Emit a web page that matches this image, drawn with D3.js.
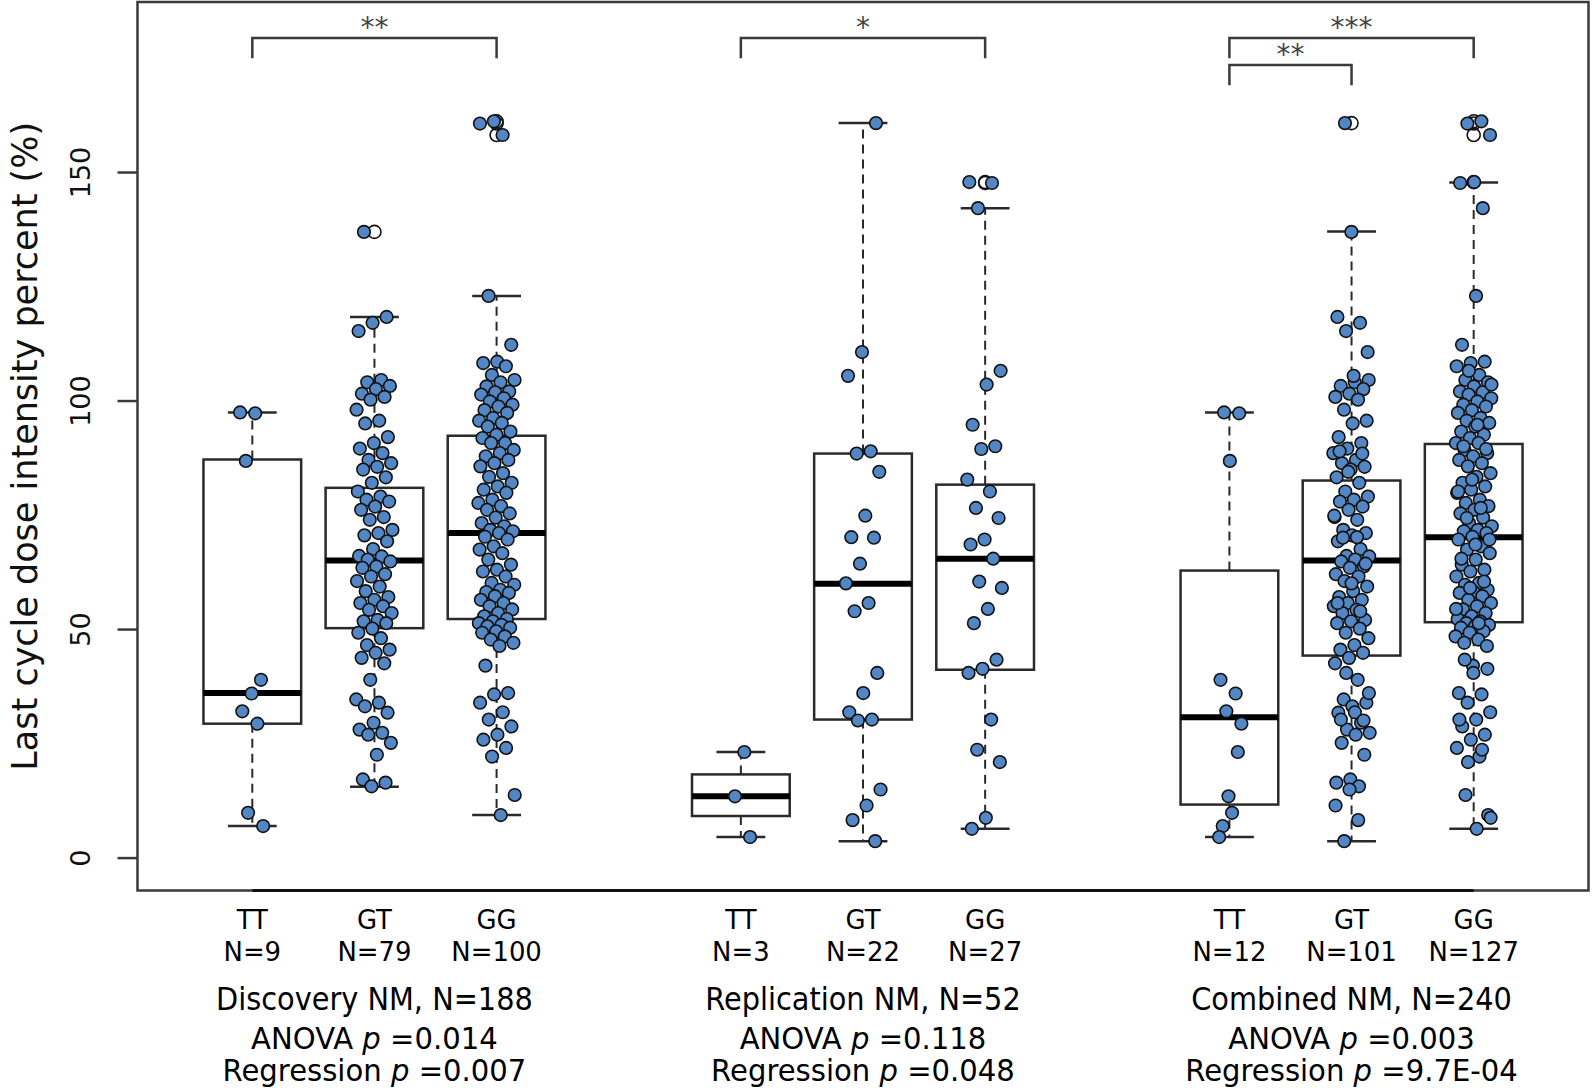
<!DOCTYPE html>
<html><head><meta charset="utf-8">
<script src="https://cdn.jsdelivr.net/npm/d3@7"></script>
<style>
body{margin:0;background:#fff;}
svg{display:block;font-family:"DejaVu Sans",sans-serif;}
</style>
</head><body>
<svg id="chart" width="1593" height="1092"></svg>
<script>
// ---------------- data ----------------
const categories = ["TT","GT","GG","TT","GT","GG","TT","GT","GG"];
const positions = [1,2,3,5,6,7,9,10,11];
const groupSizes = ["N=9","N=79","N=100","N=3","N=22","N=27","N=12","N=101","N=127"];
const cohortLabels = ["Discovery NM, N=188","Replication NM, N=52","Combined NM, N=240"];
const cohortCenters = [2,6,10];
const anovaP = ["0.014","0.118","0.003"];
const regressionP = ["0.007","0.048","9.7E-04"];
const yTicks = [0,50,100,150];
const yTitle = "Last cycle dose intensity percent (%)";

// box statistics
const whiskerHigh = [97.4,118.3,122.9,23.1,160.7,142.1,97.4,137.0,147.7];
const upperHinge  = [87.1,80.9,92.3,18.2,88.4,81.6,62.8,82.5,90.5];
const medians     = [36.0,65.0,71.0,13.4,59.9,65.4,30.7,65.0,70.1];
const lowerHinge  = [29.3,50.2,52.2,9.1,30.2,41.1,11.6,44.2,51.5];
const whiskerLow  = [6.9,15.5,9.3,4.5,3.6,6.3,4.5,3.6,6.3];

// individual values
const discoveryTT = [97.4,97.2,86.8,38.9,35.9,32.0,29.3,9.8,6.9];
const discoveryGT = [136.9,118.3,117.0,115.2,104.5,104.0,103.2,102.5,101.5,
  100.8,100.2,98.0,95.6,95.0,92.0,90.7,89.5,88.5,87.0,86.3,
  85.5,84.9,83.2,82.0,80.1,79.0,78.3,77.9,76.8,76.1,
  74.5,73.9,71.7,71.0,70.5,69.2,67.5,66.0,65.9,65.2,
  64.8,63.7,63.4,62.0,61.5,60.5,59.3,58.3,57.0,56.4,
  55.7,55.0,54.2,53.5,52.0,51.7,51.3,50.1,49.2,48.0,
  46.5,45.5,44.8,43.7,42.5,38.9,34.6,33.9,33.1,31.7,
  29.5,28.0,27.3,26.9,25.1,22.5,17.1,16.4,15.6];
const discoveryGG = [161.1,160.6,158.1,122.9,112.2,108.5,108.2,107.5,105.6,104.5,
  104.0,103.1,102.0,101.8,101.3,100.5,99.8,99.1,98.7,97.9,
  97.3,96.2,95.6,95.1,94.3,93.2,92.5,91.8,90.7,90.7,
  89.2,88.5,87.8,87.0,86.3,85.6,84.1,83.3,82.0,81.2,
  80.5,79.8,78.3,77.6,76.9,76.1,75.3,74.4,73.2,72.5,
  71.7,71.4,71.0,70.2,69.6,68.1,67.4,66.6,65.2,64.1,
  63.0,62.6,61.5,60.1,59.7,58.6,58.1,57.9,57.2,56.4,
  55.7,55.0,54.3,53.5,52.8,52.2,51.7,51.3,50.9,50.6,
  50.3,49.5,49.2,48.4,47.7,47.0,46.3,42.0,36.0,35.7,
  33.9,31.8,30.2,28.7,26.9,25.8,24.0,22.1,13.7,9.3];
const replicationTT = [23.1,13.4,4.5];
const replicationGT = [160.7,110.6,105.4,88.9,88.4,84.4,74.8,70.1,70.0,64.3,
  60.0,55.7,53.9,40.4,36.0,31.8,30.2,30.0,14.9,11.4,8.2,3.6];
const replicationGG = [147.8,147.6,142.1,106.5,103.5,94.7,90.0,89.4,82.7,80.1,
  76.5,74.3,69.6,68.5,65.4,60.4,59.0,54.4,51.3,43.3,
  41.3,40.4,30.2,23.6,20.9,8.7,6.3];
const combinedTT = discoveryTT.concat(replicationTT);
const combinedGT = discoveryGT.concat(replicationGT);
const combinedGG = discoveryGG.concat(replicationGG);
const pointSets = [discoveryTT,discoveryGT,discoveryGG,replicationTT,replicationGT,replicationGG,combinedTT,combinedGT,combinedGG];

// significance annotations
const sigFrom = [1,5,9,9];
const sigTo = [3,7,11,10];
const sigLabels = ["**","*","***","**"];
const sigLevel = [179.3,179.3,179.3,173.4];

// ---------------- drawing ----------------
const svg = d3.select("#chart");
const plot = {left:137.5, right:1588.5, top:2, bottom:890.5};
const x = d3.scaleLinear().domain([0.06,11.94]).range([plot.left,plot.right]);
const y = d3.scaleLinear().domain([-7.2,187.2]).range([plot.bottom,plot.top]);
const boxHalf = 0.4, capHalf = 0.2;
const ink = "#2a2a2a";

svg.append("rect").attr("width",1593).attr("height",1092).attr("fill","#fff");

// boxes
const boxes = svg.append("g");
positions.forEach((p,i)=>{
  const g = boxes.append("g");
  g.append("line").attr("x1",x(p)).attr("x2",x(p)).attr("y1",y(upperHinge[i])).attr("y2",y(whiskerHigh[i]))
    .attr("stroke",ink).attr("stroke-width",2).attr("stroke-dasharray","9,6");
  g.append("line").attr("x1",x(p)).attr("x2",x(p)).attr("y1",y(lowerHinge[i])).attr("y2",y(whiskerLow[i]))
    .attr("stroke",ink).attr("stroke-width",2).attr("stroke-dasharray","9,6");
  [whiskerHigh[i],whiskerLow[i]].forEach(v=>{
    g.append("line").attr("x1",x(p-capHalf)).attr("x2",x(p+capHalf)).attr("y1",y(v)).attr("y2",y(v))
      .attr("stroke",ink).attr("stroke-width",2.5);
  });
  g.append("rect").attr("x",x(p-boxHalf)).attr("width",x(p+boxHalf)-x(p-boxHalf))
    .attr("y",y(upperHinge[i])).attr("height",y(lowerHinge[i])-y(upperHinge[i]))
    .attr("fill","#fff").attr("stroke",ink).attr("stroke-width",2.5);
  g.append("line").attr("x1",x(p-boxHalf)).attr("x2",x(p+boxHalf)).attr("y1",y(medians[i])).attr("y2",y(medians[i]))
    .attr("stroke","#000").attr("stroke-width",6);
  pointSets[i].filter(v=>v>whiskerHigh[i]+0.05||v<whiskerLow[i]-0.05).forEach(v=>{
    g.append("circle").attr("cx",x(p)).attr("cy",y(v)).attr("r",6.5)
      .attr("fill","none").attr("stroke","#111").attr("stroke-width",1.6);
  });
});

// jittered points
const pts = svg.append("g");
positions.forEach((p,i)=>{
  const vals = pointSets[i];
  const amp = vals.length < 15 ? 0.1 : 0.15;
  vals.forEach((v,j)=>{
    const f = (j*0.6180339887 + i*0.2137) % 1;
    const dx = (f-0.5)*2*amp;
    pts.append("circle").attr("cx",x(p+dx)).attr("cy",y(v)).attr("r",6.3)
      .attr("fill","#5386c4").attr("stroke","#111").attr("stroke-width",1.6);
  });
});

// frame
svg.append("rect").attr("x",plot.left).attr("y",plot.top)
  .attr("width",plot.right-plot.left).attr("height",plot.bottom-plot.top)
  .attr("fill","none").attr("stroke","#3a3a3a").attr("stroke-width",2.5);
svg.append("line").attr("x1",x(1)).attr("x2",x(11)).attr("y1",plot.bottom).attr("y2",plot.bottom)
  .attr("stroke","#111").attr("stroke-width",3);

// y axis
const yAxis = svg.append("g").attr("transform",`translate(${plot.left},0)`)
  .call(d3.axisLeft(y).tickValues(yTicks).tickSize(20).tickSizeOuter(0).tickFormat(d3.format("d")));
yAxis.select(".domain").remove();
yAxis.selectAll(".tick line").attr("stroke","#3a3a3a").attr("stroke-width",2.5);
yAxis.selectAll(".tick text").attr("transform","rotate(-90)").attr("x",0).attr("y",-48).attr("dy",0)
  .attr("text-anchor","middle").attr("font-size",27).attr("fill","#111")
  .attr("font-family","DejaVu Sans, sans-serif");

// y title
svg.append("text").attr("transform",`translate(37,${(plot.top+plot.bottom)/2}) rotate(-90)`)
  .attr("text-anchor","middle").attr("font-size",35).attr("fill","#111").text(yTitle);

// bottom labels
function condensed(xp, yp, size, sx){
  return svg.append("g").attr("transform",`translate(${xp},${yp}) scale(${sx},1)`)
    .append("text").attr("text-anchor","middle").attr("font-size",size).attr("fill","#000");
}
positions.forEach((p,i)=>{
  condensed(x(p),929,27,0.96).text(categories[i]);
  condensed(x(p),961,27,0.96).text(groupSizes[i]);
});
cohortCenters.forEach((c,i)=>{
  condensed(x(c),1010,32,0.9).text(cohortLabels[i]);
  const t1 = condensed(x(c),1049,30,0.97);
  t1.append("tspan").text("ANOVA ");
  t1.append("tspan").attr("font-style","italic").text("p");
  t1.append("tspan").text(" =" + anovaP[i]);
  const t2 = condensed(x(c),1081,30,0.97);
  t2.append("tspan").text("Regression ");
  t2.append("tspan").attr("font-style","italic").text("p");
  t2.append("tspan").text(" =" + regressionP[i]);
});

// significance brackets
sigFrom.forEach((a,i)=>{
  const b = sigTo[i], lv = sigLevel[i];
  svg.append("path")
    .attr("d",`M${x(a)},${y(lv-4.4)}V${y(lv)}H${x(b)}V${y(lv-4.4)}`)
    .attr("fill","none").attr("stroke","#3a3a3a").attr("stroke-width",2.5);
  svg.append("text").attr("x",x((a+b)/2)).attr("y",y(lv)-1).attr("text-anchor","middle")
    .attr("font-size",28).attr("fill","#444").text(sigLabels[i]);
});
</script>
</body></html>
